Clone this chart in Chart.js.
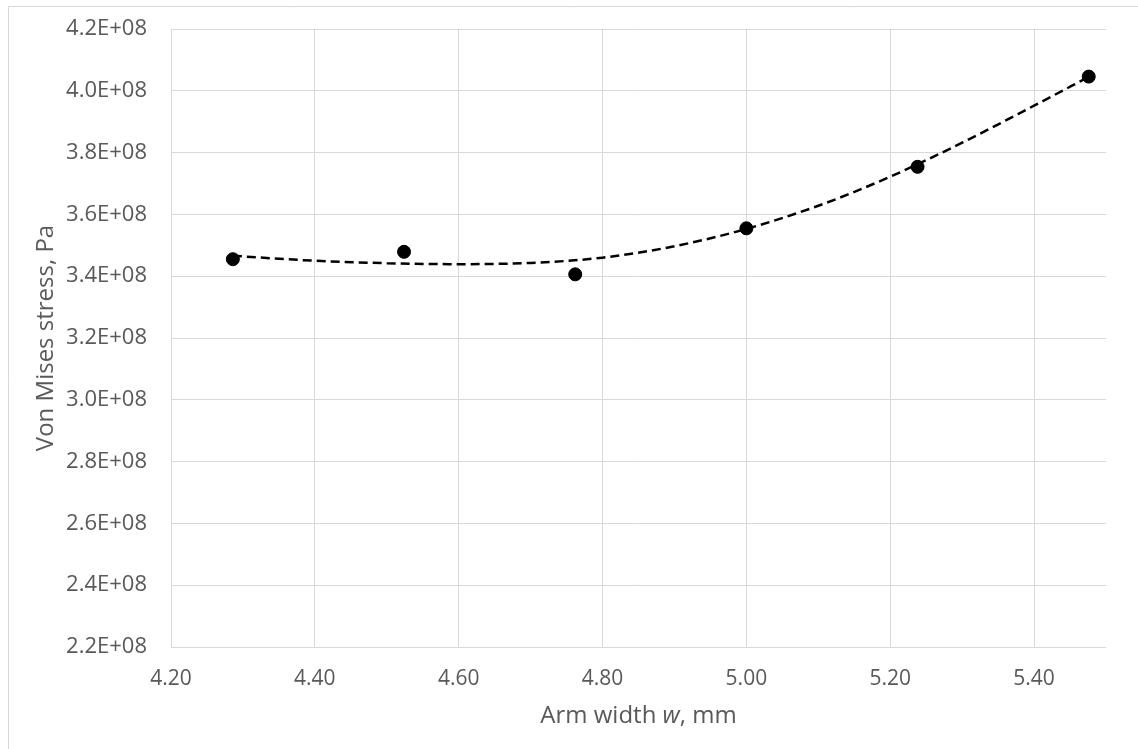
<!DOCTYPE html>
<html>
<head>
<meta charset="utf-8">
<script src="https://cdn.jsdelivr.net/npm/chart.js@4.4.1/dist/chart.umd.min.js"></script>
<style>
  html, body { margin: 0; padding: 0; background: #fff; }
  #wrap { position: relative; width: 1138px; height: 749px; }
</style>
</head>
<body>
<div id="wrap"><canvas id="chart"></canvas></div>
<script>
// measured points: arm width (mm) vs von Mises stress (Pa)
const widths = [4.286, 4.524, 4.762, 5.0, 5.238, 5.476];
const stress = [3.455e8, 3.479e8, 3.406e8, 3.555e8, 3.754e8, 4.046e8];

// dashed trendline
const trendX = [4.286, 4.4, 4.5, 4.6, 4.7, 4.8, 4.9, 5.0, 5.1, 5.2, 5.3, 5.4, 5.476];
const trendY = [3.466e8, 3.450e8, 3.442e8, 3.439e8, 3.443e8, 3.460e8, 3.497e8, 3.553e8,
                3.628e8, 3.722e8, 3.832e8, 3.952e8, 4.045e8];

const xTitle = ["Arm width ", "w", ", mm"];
const yTitle = "Von Mises stress, Pa";

const FONT = "'Open Sans', sans-serif";
const TEXT = "#595959";
const GRID = "#d9d9d9";

function sci(v) {
  const [m, e] = v.toExponential(1).split("e");
  return m + "E" + e[0] + e.slice(1).padStart(2, "0");
}

const frame = {
  id: "frame",
  beforeDraw(chart) {
    const c = chart.ctx;
    c.save();
    c.fillStyle = "#fff";
    c.fillRect(0, 0, chart.width, chart.height);
    c.strokeStyle = GRID;
    c.lineWidth = 1;
    c.beginPath();
    c.moveTo(8.5, chart.height);
    c.lineTo(8.5, 6.5);
    c.lineTo(chart.width, 6.5);
    c.stroke();
    c.restore();
  },
  afterDraw(chart) {
    const c = chart.ctx;
    const a = chart.chartArea;
    c.save();
    c.fillStyle = TEXT;
    c.textBaseline = "middle";

    // y title
    c.font = "24px " + FONT;
    c.translate(46, (a.top + a.bottom) / 2);
    c.rotate(-Math.PI / 2);
    c.textAlign = "center";
    c.fillText(yTitle, 0, 0);
    c.setTransform(1, 0, 0, 1, 0, 0);

    // x title with italic w
    const fonts = ["24px " + FONT, "italic 24px " + FONT, "24px " + FONT];
    let total = 0;
    const ws = xTitle.map((s, i) => {
      c.font = fonts[i];
      const w = c.measureText(s).width;
      total += w;
      return w;
    });
    let x = (a.left + a.right) / 2 - total / 2;
    c.textAlign = "left";
    xTitle.forEach((s, i) => {
      c.font = fonts[i];
      c.fillText(s, x, 716);
      x += ws[i];
    });
    c.restore();
  },
};

new Chart(document.getElementById("chart"), {
  type: "scatter",
  data: {
    datasets: [
      {
        label: "Stress",
        data: widths.map((w, i) => ({ x: w, y: stress[i] })),
        backgroundColor: "#000",
        borderColor: "#000",
        pointRadius: 6.5,
        pointHoverRadius: 6.5,
      },
      {
        label: "Trend",
        data: trendX.map((w, i) => ({ x: w, y: trendY[i] })),
        showLine: true,
        borderColor: "#000",
        borderWidth: 2.5,
        borderDash: [9, 5],
        pointRadius: 0,
        cubicInterpolationMode: "monotone",
        fill: false,
      },
    ],
  },
  options: {
    responsive: true,
    maintainAspectRatio: false,
    animation: false,
    events: [],
    layout: { padding: { top: 29, right: 32, left: 0, bottom: 0 } },
    plugins: {
      legend: { display: false },
      tooltip: { enabled: false },
    },
    scales: {
      x: {
        type: "linear",
        min: 4.2,
        max: 5.5,
        afterFit(scale) {
          scale.height = 102;
          scale.paddingLeft = 0;
          scale.paddingRight = 0;
        },
        ticks: {
          stepSize: 0.2,
          includeBounds: false,
          callback: (v) => v.toFixed(2),
          font: { family: FONT, size: 21 },
          color: TEXT,
          padding: 19,
          maxRotation: 0,
        },
        grid: { color: GRID, drawTicks: false },
        border: { display: false },
      },
      y: {
        min: 2.2e8,
        max: 4.2e8,
        afterFit(scale) {
          scale.width = 171;
          scale.paddingTop = 0;
          scale.paddingBottom = 0;
        },
        ticks: {
          stepSize: 0.2e8,
          callback: (v) => sci(v),
          font: { family: FONT, size: 22 },
          color: TEXT,
          padding: 24,
        },
        grid: { color: GRID, drawTicks: false },
        border: { display: false },
      },
    },
  },
  plugins: [frame],
});
</script>
</body>
</html>
